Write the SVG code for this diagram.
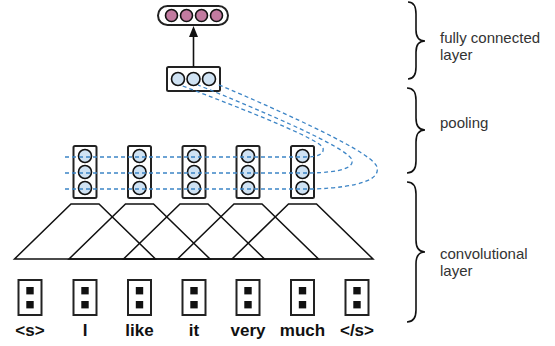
<svg xmlns="http://www.w3.org/2000/svg" width="555" height="346" viewBox="0 0 555 346">
<style>
.box{fill:#fff;stroke:#222;stroke-width:2}
.cb{fill:#cfe2f3;stroke:#111;stroke-width:1.6}
.cp{fill:#c27ba0;stroke:#111;stroke-width:1.6}
.sq{fill:#111}
.trap{fill:none;stroke:#111;stroke-width:1.5;stroke-linejoin:miter}
.dash{fill:none;stroke:#3d85c6;stroke-width:1.3;stroke-dasharray:4 3}
.brace{fill:none;stroke:#111;stroke-width:1.6}
.word{font-family:"Liberation Sans",Arial,sans-serif;font-weight:bold;font-size:17px;fill:#111;text-anchor:middle}
.lab{font-family:"Liberation Sans",Arial,sans-serif;font-size:15px;fill:#333}
</style>
<defs>
<g id="wv"><rect class="box" x="-11.5" y="0" width="23" height="35"/><rect class="sq" x="-3.7" y="7" width="7.4" height="7.4"/><rect class="sq" x="-3.7" y="21" width="7.4" height="7.4"/></g>
<g id="cv"><rect class="box" x="-11.5" y="146" width="23" height="52" rx="1.5"/><circle class="cb" cx="0" cy="156" r="6.5"/><circle class="cb" cx="0" cy="172" r="6.5"/><circle class="cb" cx="0" cy="188" r="6.5"/></g>
</defs>
<g id="words">
<g id="w1"><use href="#wv" x="30" y="280"/><text class="word" x="30" y="336">&lt;s&gt;</text></g>
<g id="w2"><use href="#wv" x="85" y="280"/><text class="word" x="85" y="336">I</text></g>
<g id="w3"><use href="#wv" x="139.5" y="280"/><text class="word" x="139.5" y="336">like</text></g>
<g id="w4"><use href="#wv" x="194" y="280"/><text class="word" x="194" y="336">it</text></g>
<g id="w5"><use href="#wv" x="248" y="280"/><text class="word" x="248" y="336">very</text></g>
<g id="w6"><use href="#wv" x="302.5" y="280"/><text class="word" x="302.5" y="336">much</text></g>
<g id="w7"><use href="#wv" x="357" y="280"/><text class="word" x="357" y="336">&lt;/s&gt;</text></g>
</g>
<g id="filters">
<polygon class="trap" points="71,204 99,204 155.5,259 14.5,259"/>
<polygon class="trap" points="125.5,204 153.5,204 210,259 69,259"/>
<polygon class="trap" points="180,204 208,204 264.5,259 123.5,259"/>
<polygon class="trap" points="234,204 262,204 318.5,259 177.5,259"/>
<polygon class="trap" points="288.5,204 316.5,204 373,259 232,259"/>
</g>
<g id="conv">
<g id="c1"><use href="#cv" x="85"/></g>
<g id="c2"><use href="#cv" x="139.5"/></g>
<g id="c3"><use href="#cv" x="194"/></g>
<g id="c4"><use href="#cv" x="248"/></g>
<g id="c5"><use href="#cv" x="302.5"/></g>
</g>
<g id="pool">
<rect class="box" x="167" y="67" width="53" height="24" rx="1.5"/>
<circle class="cb" cx="178" cy="79" r="6.5"/>
<circle class="cb" cx="193.5" cy="79" r="6.5"/>
<circle class="cb" cx="209" cy="79" r="6.5"/>
</g>
<g id="fc">
<rect class="box" x="158" y="6" width="70" height="19" rx="9.5"/>
<circle class="cp" cx="171.5" cy="15.5" r="6"/>
<circle class="cp" cx="186.5" cy="15.5" r="6"/>
<circle class="cp" cx="201.5" cy="15.5" r="6"/>
<circle class="cp" cx="216.5" cy="15.5" r="6"/>
</g>
<g id="connectors">
<path class="dash" d="M65,157 H305 Q325,157 323,148 Q320,138 180,85"/>
<path class="dash" d="M65,173 H310 Q355,172 352,160 Q348,146 198,85"/>
<path class="dash" d="M65,189 H315 Q382,186 377,167 Q372,150 217,84"/>
<line x1="193.5" y1="67" x2="193.5" y2="36" stroke="#111" stroke-width="1.6"/>
<polygon points="193.5,26 189,37 198,37" fill="#111"/>
</g>
<g id="braces">
<path class="brace" d="M408,2 C414,2 416,6 416,14 L416,30 C416,37 419,41 425,41 C419,41 416,45 416,52 L416,67 C416,75 414,79 408,79"/>
<path class="brace" d="M407,88 C413,88 416,92 416,100 L416,118 C416,126 419,130 425,130 C419,130 416,134 416,142 L416,161 C416,169 413,173 407,173"/>
<path class="brace" d="M407,182 C413,182 416,186 416,194 L416,240 C416,248 419,252 425,252 C419,252 416,256 416,264 L416,310 C416,318 413,322 407,322"/>
</g>
<g id="labels">
<text class="lab" x="440" y="43">fully connected</text>
<text class="lab" x="440" y="60">layer</text>
<text class="lab" x="440" y="128">pooling</text>
<text class="lab" x="440" y="259">convolutional</text>
<text class="lab" x="440" y="276">layer</text>
</g>
</svg>
